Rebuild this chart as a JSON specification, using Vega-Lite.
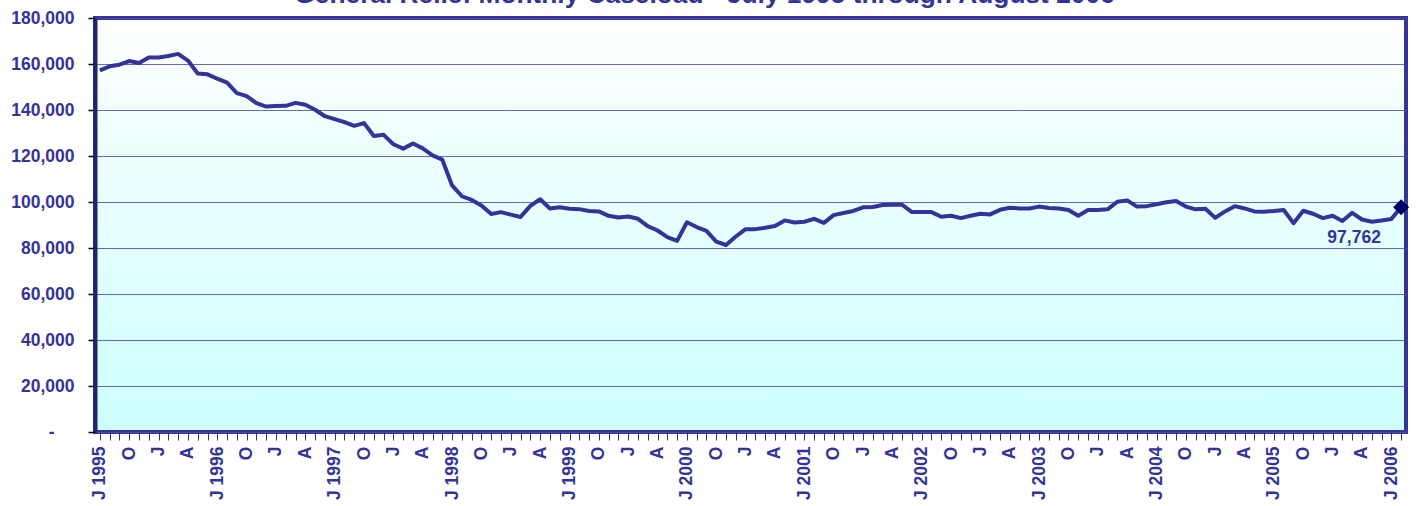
{
  "$schema": "https://vega.github.io/schema/vega-lite/v6.json",
  "width": 1311,
  "height": 414,
  "autosize": {"type": "none"},
  "padding": {"left": 95, "top": 18, "right": 11, "bottom": 74},
  "background": "white",
  "title": {
    "text": "General Relief Monthly Caseload - July 1995 through August 2006",
    "font": "Liberation Sans",
    "fontSize": 26.3,
    "fontWeight": "bold",
    "color": "#333399",
    "baseline": "alphabetic",
    "offset": 0,
    "dy": 20,
    "dx": -46,
    "anchor": "middle"
  },
  "config": {
    "view": {
      "fill": {"gradient": "linear", "x1": 0, "y1": 0, "x2": 0, "y2": 1, "stops": [{"offset": 0, "color": "#FFFFFF"}, {"offset": 1, "color": "#CCFFFF"}]},
      "stroke": "#333399",
      "strokeWidth": 4
    },
    "axis": {
      "labelFont": "Liberation Sans",
      "labelFontSize": 17.5,
      "labelFontWeight": "bold",
      "labelColor": "#333399"
    }
  },
  "data": {
    "values": [
      {"m": "1995-07", "v": 157200}, {"m": "1995-08", "v": 159000}, {"m": "1995-09", "v": 159700},
      {"m": "1995-10", "v": 161300}, {"m": "1995-11", "v": 160400}, {"m": "1995-12", "v": 162800},
      {"m": "1996-01", "v": 162800}, {"m": "1996-02", "v": 163500}, {"m": "1996-03", "v": 164400},
      {"m": "1996-04", "v": 161500}, {"m": "1996-05", "v": 155900}, {"m": "1996-06", "v": 155500},
      {"m": "1996-07", "v": 153600}, {"m": "1996-08", "v": 151900}, {"m": "1996-09", "v": 147300},
      {"m": "1996-10", "v": 146000}, {"m": "1996-11", "v": 143000}, {"m": "1996-12", "v": 141500},
      {"m": "1997-01", "v": 141700}, {"m": "1997-02", "v": 141800}, {"m": "1997-03", "v": 143100},
      {"m": "1997-04", "v": 142300}, {"m": "1997-05", "v": 140100}, {"m": "1997-06", "v": 137300},
      {"m": "1997-07", "v": 136000}, {"m": "1997-08", "v": 134700}, {"m": "1997-09", "v": 133100},
      {"m": "1997-10", "v": 134300}, {"m": "1997-11", "v": 128700}, {"m": "1997-12", "v": 129200},
      {"m": "1998-01", "v": 125100}, {"m": "1998-02", "v": 123200}, {"m": "1998-03", "v": 125400},
      {"m": "1998-04", "v": 123300}, {"m": "1998-05", "v": 120300}, {"m": "1998-06", "v": 118400},
      {"m": "1998-07", "v": 107200}, {"m": "1998-08", "v": 102500}, {"m": "1998-09", "v": 100900},
      {"m": "1998-10", "v": 98500}, {"m": "1998-11", "v": 94800}, {"m": "1998-12", "v": 95600},
      {"m": "1999-01", "v": 94500}, {"m": "1999-02", "v": 93500}, {"m": "1999-03", "v": 98300},
      {"m": "1999-04", "v": 101200}, {"m": "1999-05", "v": 97200}, {"m": "1999-06", "v": 97700},
      {"m": "1999-07", "v": 97100}, {"m": "1999-08", "v": 96900}, {"m": "1999-09", "v": 96100},
      {"m": "1999-10", "v": 95900}, {"m": "1999-11", "v": 94000}, {"m": "1999-12", "v": 93300},
      {"m": "2000-01", "v": 93700}, {"m": "2000-02", "v": 92700}, {"m": "2000-03", "v": 89500},
      {"m": "2000-04", "v": 87600}, {"m": "2000-05", "v": 84700}, {"m": "2000-06", "v": 83100},
      {"m": "2000-07", "v": 91200}, {"m": "2000-08", "v": 89100}, {"m": "2000-09", "v": 87400},
      {"m": "2000-10", "v": 82800}, {"m": "2000-11", "v": 81300}, {"m": "2000-12", "v": 85000},
      {"m": "2001-01", "v": 88200}, {"m": "2001-02", "v": 88200}, {"m": "2001-03", "v": 88800},
      {"m": "2001-04", "v": 89600}, {"m": "2001-05", "v": 92000}, {"m": "2001-06", "v": 91100},
      {"m": "2001-07", "v": 91400}, {"m": "2001-08", "v": 92700}, {"m": "2001-09", "v": 90900},
      {"m": "2001-10", "v": 94300}, {"m": "2001-11", "v": 95200}, {"m": "2001-12", "v": 96100},
      {"m": "2002-01", "v": 97700}, {"m": "2002-02", "v": 97800}, {"m": "2002-03", "v": 98700},
      {"m": "2002-04", "v": 98800}, {"m": "2002-05", "v": 98800}, {"m": "2002-06", "v": 95600},
      {"m": "2002-07", "v": 95600}, {"m": "2002-08", "v": 95600}, {"m": "2002-09", "v": 93600},
      {"m": "2002-10", "v": 94000}, {"m": "2002-11", "v": 93000}, {"m": "2002-12", "v": 94000},
      {"m": "2003-01", "v": 94900}, {"m": "2003-02", "v": 94600}, {"m": "2003-03", "v": 96600},
      {"m": "2003-04", "v": 97500}, {"m": "2003-05", "v": 97200}, {"m": "2003-06", "v": 97200},
      {"m": "2003-07", "v": 98000}, {"m": "2003-08", "v": 97400}, {"m": "2003-09", "v": 97200},
      {"m": "2003-10", "v": 96500}, {"m": "2003-11", "v": 94000}, {"m": "2003-12", "v": 96500},
      {"m": "2004-01", "v": 96500}, {"m": "2004-02", "v": 96800}, {"m": "2004-03", "v": 100100},
      {"m": "2004-04", "v": 100700}, {"m": "2004-05", "v": 98000}, {"m": "2004-06", "v": 98200},
      {"m": "2004-07", "v": 99000}, {"m": "2004-08", "v": 99900}, {"m": "2004-09", "v": 100400},
      {"m": "2004-10", "v": 98000}, {"m": "2004-11", "v": 96800}, {"m": "2004-12", "v": 97100},
      {"m": "2005-01", "v": 93100}, {"m": "2005-02", "v": 95900}, {"m": "2005-03", "v": 98200},
      {"m": "2005-04", "v": 97200}, {"m": "2005-05", "v": 95900}, {"m": "2005-06", "v": 95800},
      {"m": "2005-07", "v": 96100}, {"m": "2005-08", "v": 96500}, {"m": "2005-09", "v": 90800},
      {"m": "2005-10", "v": 96200}, {"m": "2005-11", "v": 94900}, {"m": "2005-12", "v": 93000},
      {"m": "2006-01", "v": 94000}, {"m": "2006-02", "v": 91700}, {"m": "2006-03", "v": 95300},
      {"m": "2006-04", "v": 92400}, {"m": "2006-05", "v": 91400}, {"m": "2006-06", "v": 92000},
      {"m": "2006-07", "v": 92600}, {"m": "2006-08", "v": 97762}
    ]
  },
  "layer": [
    {
      "mark": {"type": "line", "color": "#333399", "strokeWidth": 4, "strokeJoin": "round"},
      "encoding": {
        "x": {
          "field": "m",
          "type": "ordinal",
          "sort": null,
          "scale": {"type": "point", "padding": 0.5},
          "axis": {
            "title": null,
            "labelAngle": -90,
            "labelOverlap": false,
            "tickSize": 8,
            "tickColor": "#333399",
            "tickWidth": 1,
            "domain": false,
            "grid": false,
            "labelPadding": 6,
            "labelExpr": "slice(datum.value,5)=='07' ? 'J ' + slice(datum.value,0,4) : slice(datum.value,5)=='10' ? 'O' : slice(datum.value,5)=='01' ? 'J' : slice(datum.value,5)=='04' ? 'A' : ''"
          }
        },
        "y": {
          "field": "v",
          "type": "quantitative",
          "scale": {"domain": [0, 180000], "nice": false},
          "axis": {
            "title": null,
            "values": [0, 20000, 40000, 60000, 80000, 100000, 120000, 140000, 160000, 180000],
            "grid": true,
            "gridColor": "#4d4dab",
            "gridWidth": 1,
            "gridOpacity": 0.85,
            "tickColor": "#000000",
            "tickSize": 7,
            "tickWidth": 1.5,
            "labelPadding": {"condition": {"test": "datum.value == 0", "value": 34}, "value": 14},
            "domain": true,
            "domainColor": "#22226e",
            "domainWidth": 4,
            "labelExpr": "datum.value == 0 ? '-' : format(datum.value, ',')"
          }
        }
      }
    },
    {
      "transform": [{"filter": "datum.m == '2006-08'"}],
      "mark": {"type": "point", "shape": "diamond", "filled": true, "color": "#000066", "size": 256, "opacity": 1},
      "encoding": {
        "x": {"field": "m", "type": "ordinal", "sort": null},
        "y": {"field": "v", "type": "quantitative"}
      }
    },
    {
      "transform": [{"filter": "datum.m == '2006-08'"}],
      "mark": {"type": "text", "font": "Liberation Sans", "fontSize": 17.5, "fontWeight": "bold", "color": "#333399", "dx": -47, "dy": 31, "align": "center", "baseline": "middle"},
      "encoding": {
        "x": {"field": "m", "type": "ordinal", "sort": null},
        "y": {"field": "v", "type": "quantitative"},
        "text": {"field": "v", "type": "quantitative", "format": ","}
      }
    }
  ]
}
